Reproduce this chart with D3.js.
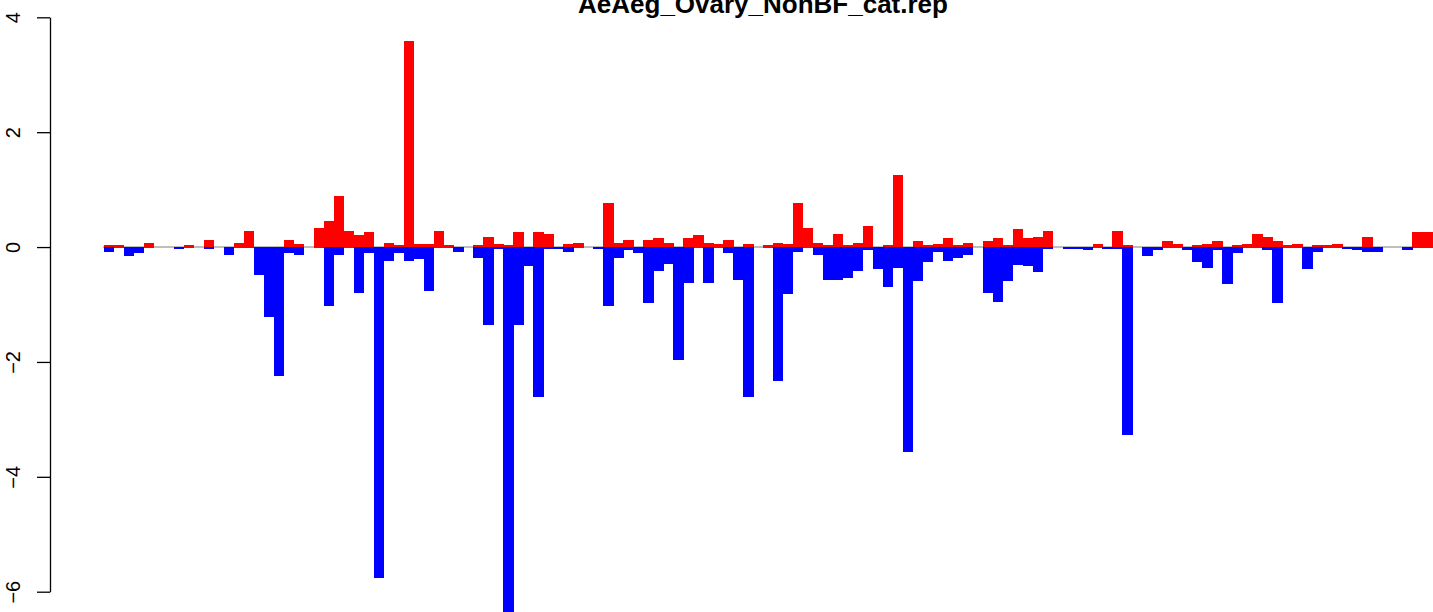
<!DOCTYPE html>
<html>
<head>
<meta charset="utf-8">
<script src="https://cdn.jsdelivr.net/npm/d3@7"></script>
<style>
  html, body { margin: 0; padding: 0; background: #fff; }
  svg { display: block; }
</style>
</head>
<body>
<svg id="chart" width="1433" height="612"></svg>
<script>
const title = "AeAeg_Ovary_NonBF_cat.rep";
const yTicks = [-6, -4, -2, 0, 2, 4];
const up = [
  0.04, 0.04, 0, 0, 0.07, 0, 0, 0, 0.035, 0,
  0.12, 0, 0, 0.07, 0.28, 0, 0, 0, 0.12, 0.05,
  0, 0.33, 0.45, 0.89, 0.28, 0.21, 0.26, 0, 0.07, 0.035,
  3.59, 0.05, 0.05, 0.28, 0.035, 0, 0, 0.035, 0.17, 0.05,
  0.035, 0.26, 0, 0.26, 0.23, 0, 0.05, 0.07, 0, 0,
  0.77, 0.07, 0.12, 0, 0.12, 0.16, 0.07, 0, 0.16, 0.21,
  0.07, 0.05, 0.12, 0, 0.05, 0, 0.035, 0.07, 0.05, 0.77,
  0.33, 0.07, 0.035, 0.23, 0.035, 0.07, 0.37, 0, 0.035, 1.26,
  0, 0.10, 0.035, 0.05, 0.16, 0.035, 0.07, 0, 0.10, 0.16,
  0.035, 0.31, 0.16, 0.17, 0.28, 0, 0, 0, 0, 0.05,
  0, 0.28, 0.035, 0, 0, 0, 0.10, 0.05, 0, 0.035,
  0.05, 0.10, 0, 0.035, 0.05, 0.23, 0.17, 0.10, 0.035, 0.05,
  0, 0.035, 0.035, 0.05, 0, 0, 0.17, 0, 0, 0,
  0, 0.26, 0.26
];
const down = [
  -0.08, 0, -0.15, -0.10, 0, 0, 0, -0.035, 0, 0,
  -0.035, 0, -0.13, 0, 0, -0.48, -1.22, -2.24, -0.10, -0.13,
  0, 0, -1.02, -0.13, 0, -0.80, -0.10, -5.77, -0.24, -0.10,
  -0.24, -0.20, -0.76, 0, 0, -0.08, 0, -0.19, -1.35, -0.03,
  -6.4, -1.35, -0.33, -2.61, -0.04, -0.03, -0.08, 0, 0, -0.035,
  -1.03, -0.19, -0.05, -0.10, -0.97, -0.41, -0.29, -1.96, -0.62, 0,
  -0.62, 0, -0.10, -0.57, -2.61, 0, 0, -2.33, -0.82, -0.08,
  0, -0.13, -0.57, -0.57, -0.54, -0.41, -0.05, -0.38, -0.69, -0.36,
  -3.56, -0.59, -0.26, -0.08, -0.24, -0.19, -0.13, 0, -0.80, -0.96,
  -0.59, -0.31, -0.33, -0.43, -0.03, 0, -0.03, -0.03, -0.05, 0,
  -0.03, -0.03, -3.27, 0, -0.15, -0.05, 0, 0, -0.05, -0.26,
  -0.36, -0.05, -0.64, -0.10, 0, 0, -0.05, -0.97, 0, 0,
  -0.38, -0.08, 0, 0, -0.03, -0.05, -0.08, -0.08, 0, 0,
  -0.05, 0, 0
];
const categories = up.map((d, i) => i + 1);

const svg = d3.select("#chart");

const x = d3.scaleBand().domain(categories).range([104, 1432]).paddingInner(0).paddingOuter(0);
const y = d3.scaleLinear().domain([-6, 4]).range([591.7, 17.3]);

// zero line (under bars)
svg.append("line")
  .attr("x1", x(categories[0]) - 1).attr("x2", x(categories[categories.length - 1]) + x.bandwidth())
  .attr("y1", y(0)).attr("y2", y(0))
  .attr("stroke", "#a8a8a8").attr("stroke-width", 1.4);

const upData = categories.map((c, i) => ({c, v: up[i]})).filter(d => d.v !== 0);
const downData = categories.map((c, i) => ({c, v: down[i]})).filter(d => d.v !== 0);

svg.append("g").attr("shape-rendering", "crispEdges").selectAll("rect").data(upData).join("rect")
  .attr("x", d => x(d.c))
  .attr("width", x.bandwidth() + 0.5)
  .attr("y", d => y(d.v))
  .attr("height", d => y(0) - y(d.v) + 0.7)
  .attr("fill", "#ff0000");

svg.append("g").attr("shape-rendering", "crispEdges").selectAll("rect").data(downData).join("rect")
  .attr("x", d => x(d.c))
  .attr("width", x.bandwidth() + 0.5)
  .attr("y", y(0))
  .attr("height", d => y(d.v) - y(0))
  .attr("fill", "#0000ff");

// y axis
const axis = svg.append("g")
  .attr("transform", "translate(50,0)")
  .call(d3.axisLeft(y).tickValues(yTicks).tickSizeInner(13).tickSizeOuter(0).tickPadding(17));
axis.select(".domain").attr("stroke", "#000").attr("stroke-width", 1.3);
axis.selectAll(".tick line").attr("stroke", "#000").attr("stroke-width", 1.3);
axis.selectAll(".tick text")
  .attr("x", null).attr("dy", null)
  .attr("transform", "translate(-30,0) rotate(-90)")
  .attr("text-anchor", "middle")
  .attr("fill", "#000")
  .style("font-family", "'Liberation Sans', Arial, sans-serif")
  .style("font-size", "20px");

// title
svg.append("text")
  .attr("x", 763).attr("y", 13)
  .attr("text-anchor", "middle")
  .style("font-family", "'Liberation Sans', Arial, sans-serif")
  .style("font-weight", "bold")
  .style("font-size", "26px")
  .text(title);
</script>
</body>
</html>
